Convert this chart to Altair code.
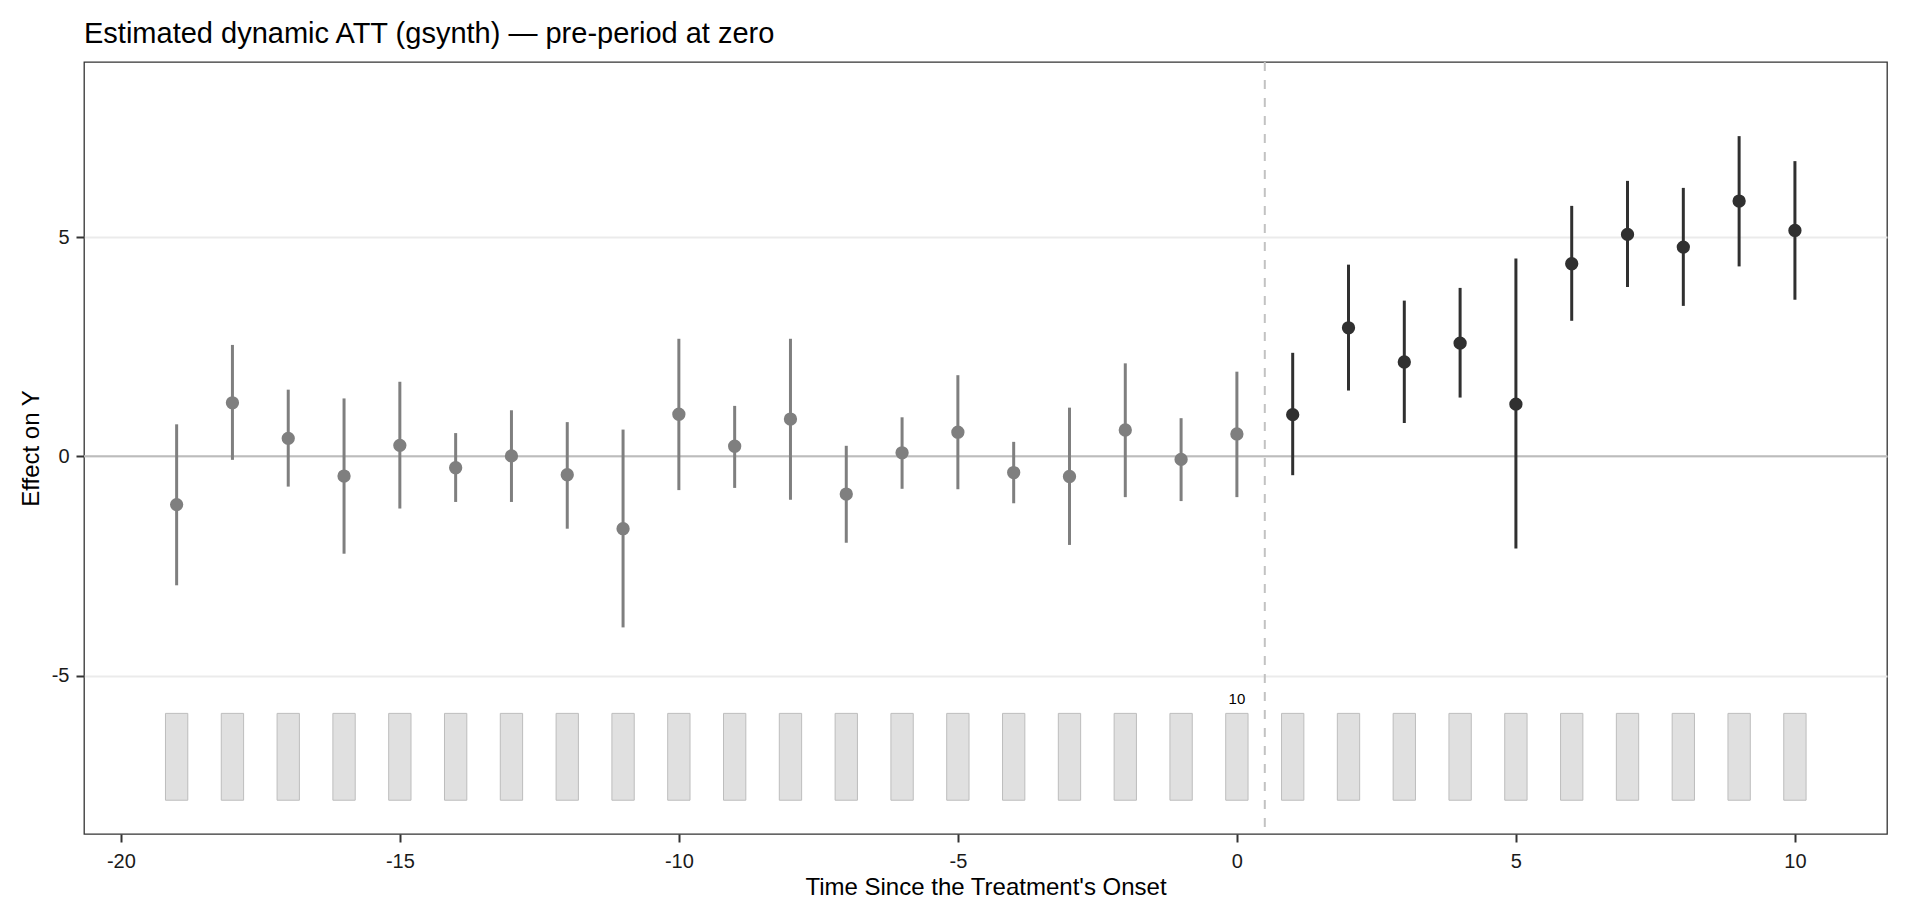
import altair as alt
import pandas as pd

# ---- data ----
times = [-19, -18, -17, -16, -15, -14, -13, -12, -11, -10,
         -9, -8, -7, -6, -5, -4, -3, -2, -1, 0,
         1, 2, 3, 4, 5, 6, 7, 8, 9, 10]
att = [-1.10, 1.22, 0.41, -0.45, 0.25, -0.26, 0.01, -0.42, -1.65, 0.96,
       0.23, 0.85, -0.86, 0.08, 0.55, -0.37, -0.46, 0.60, -0.07, 0.51,
       0.95, 2.93, 2.15, 2.58, 1.19, 4.39, 5.06, 4.77, 5.82, 5.15]
ci_lower = [-2.94, -0.08, -0.69, -2.22, -1.19, -1.04, -1.04, -1.65, -3.90, -0.77,
            -0.72, -0.99, -1.97, -0.74, -0.75, -1.07, -2.02, -0.93, -1.02, -0.93,
            -0.43, 1.50, 0.76, 1.34, -2.10, 3.09, 3.86, 3.43, 4.33, 3.57]
ci_upper = [0.73, 2.54, 1.52, 1.32, 1.70, 0.53, 1.05, 0.78, 0.61, 2.68,
            1.15, 2.68, 0.24, 0.89, 1.85, 0.33, 1.11, 2.12, 0.87, 1.93,
            2.36, 4.37, 3.55, 3.84, 4.51, 5.71, 6.28, 6.12, 7.30, 6.73]
n_treated = [10, 10, 10, 10, 10, 10, 10, 10, 10, 10,
             10, 10, 10, 10, 10, 10, 10, 10, 10, 10,
             10, 10, 10, 10, 10, 10, 10, 10, 10, 10]
x_ticks = [-20, -15, -10, -5, 0, 5, 10]
y_ticks = [-5, 0, 5]
label_time = [0]

# ---- layout / style constants ----
FONT = "Liberation Sans"
X_DOMAIN = [-20.66, 11.65]
Y_DOMAIN = [-8.61, 8.99]
BAR_BASE = -7.84
BAR_SPAN = 1.98
BAR_HALF = 0.2
PRE_COL = "#7f7f7f"
POST_COL = "#303030"

df = pd.DataFrame({"time": times, "att": att, "lower": ci_lower,
                   "upper": ci_upper, "n": n_treated})
df["period"] = ["pre" if t <= 0 else "post" for t in times]
nmax = max(n_treated)
df["bar_lo"] = BAR_BASE
df["bar_hi"] = [BAR_BASE + v / nmax * BAR_SPAN for v in n_treated]
df["x_lo"] = df["time"] - BAR_HALF
df["x_hi"] = df["time"] + BAR_HALF
df_lab = df[df["time"].isin(label_time)].copy()

xscale = alt.Scale(domain=X_DOMAIN, nice=False, zero=False)
yscale = alt.Scale(domain=Y_DOMAIN, nice=False, zero=False)

xaxis = alt.Axis(values=x_ticks, title="Time Since the Treatment's Onset", grid=False,
                 domain=False, tickColor="#333333", tickWidth=2, tickSize=8,
                 labelExpr="'' + datum.value",
                 labelFont=FONT, labelFontSize=20, labelColor="#1a1a1a", labelPadding=9,
                 titleFont=FONT, titleFontSize=24, titleFontWeight="normal",
                 titleColor="#000000", titleBaseline="alphabetic", titleY=60)
yaxis = alt.Axis(values=y_ticks, title="Effect on Y", grid=True, gridColor="#ebebeb",
                 gridWidth=2, domain=False, tickColor="#333333", tickWidth=2, tickSize=8,
                 labelExpr="'' + datum.value",
                 labelFont=FONT, labelFontSize=20, labelColor="#1a1a1a", labelPadding=7,
                 titleFont=FONT, titleFontSize=24, titleFontWeight="normal",
                 titleColor="#000000", titleAngle=270, titleBaseline="middle",
                 titleAlign="center", titleX=-53, titleY=386)

color = alt.Color("period:N", scale=alt.Scale(domain=["pre", "post"], range=[PRE_COL, POST_COL]),
                  legend=None)

base = alt.Chart(df)

bars = base.mark_rect(fill="#e0e0e0", stroke="#bdbdbd", strokeWidth=1).encode(
    x=alt.X("x_lo:Q", scale=xscale, axis=xaxis),
    x2="x_hi:Q",
    y=alt.Y("bar_lo:Q", scale=yscale, axis=yaxis),
    y2="bar_hi:Q",
)

zero = alt.Chart(pd.DataFrame({"y": [0]})).mark_rule(color="#bcbcbc", strokeWidth=2).encode(
    y=alt.Y("y:Q", scale=yscale, axis=yaxis)
)

vline = alt.Chart(pd.DataFrame({"x": [0.5]})).mark_rule(
    color="#c2c2c2", strokeWidth=2, strokeDash=[9, 9]).encode(
    x=alt.X("x:Q", scale=xscale, axis=xaxis)
)

labels = alt.Chart(df_lab).mark_text(font=FONT, fontSize=15, color="#000000",
                                     baseline="alphabetic", dy=-9).encode(
    x=alt.X("time:Q", scale=xscale, axis=xaxis),
    y=alt.Y("bar_hi:Q", scale=yscale, axis=yaxis),
    text="n:Q",
)

errs = base.mark_rule(strokeWidth=3).encode(
    x=alt.X("time:Q", scale=xscale, axis=xaxis),
    y=alt.Y("lower:Q", scale=yscale, axis=yaxis),
    y2="upper:Q",
    color=color,
)

pts = base.mark_circle(size=177, opacity=1).encode(
    x=alt.X("time:Q", scale=xscale, axis=xaxis),
    y=alt.Y("att:Q", scale=yscale, axis=yaxis),
    color=color,
)

chart = alt.layer(zero, vline, bars, labels, errs, pts).properties(
    width=1803,
    height=772,
    background="white",
    title=alt.TitleParams(text="Estimated dynamic ATT (gsynth) — pre-period at zero",
                          anchor="start", frame="group", font=FONT, fontSize=29,
                          fontWeight="normal", color="#000000", baseline="alphabetic",
                          offset=19, dy=30),
    padding={"left": 76, "top": 54, "right": 25, "bottom": 75},
    autosize=alt.AutoSizeParams(type="none"),
).configure_view(stroke="#333333", strokeWidth=1.3)

chart.save("out.html", embed_options={"renderer": "svg", "actions": False})
